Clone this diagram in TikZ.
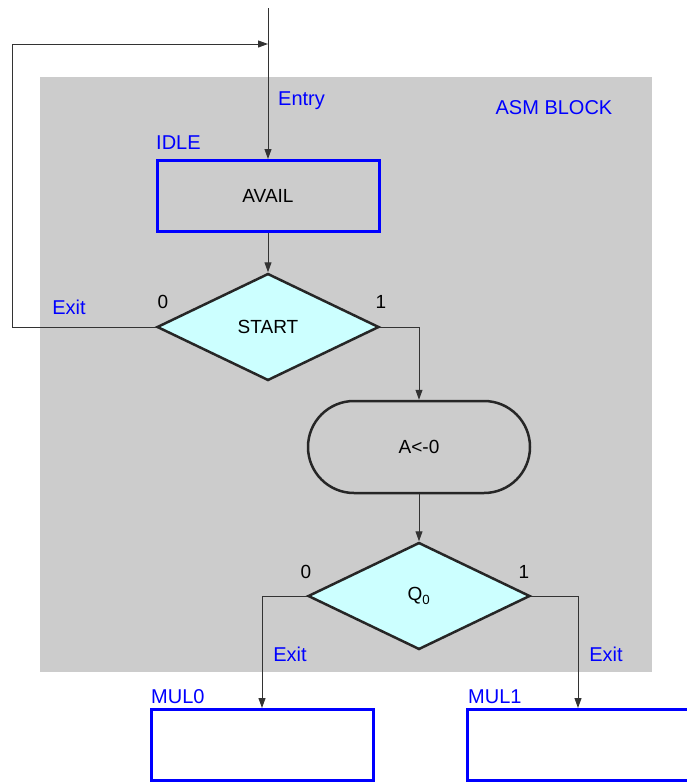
\documentclass[tikz,border=0pt]{standalone}
\usepackage{fontspec}
\setmainfont{Liberation Sans}
\usepackage{tikz}
\usetikzlibrary{shapes.geometric, arrows.meta, positioning}
\definecolor{asmgray}{RGB}{204,204,204}
\definecolor{condcyan}{RGB}{204,255,255}
\definecolor{asmblue}{RGB}{0,0,255}
\tikzstyle{arrow} = [-{Triangle[length=10pt, width=7pt]}, line width=1pt, draw=black!80]
\tikzstyle{statebox} = [draw=asmblue, line width=3pt, minimum width=222pt, minimum height=71pt, inner sep=0pt]
\tikzstyle{decision} = [diamond, draw=black!85, line width=2.5pt, fill=condcyan, minimum width=222pt, minimum height=107pt, inner sep=0pt]
\tikzstyle{condbox} = [draw=black!85, line width=2.5pt, rounded corners=46pt, minimum width=222pt, minimum height=92pt]
\tikzstyle{tag} = [text=asmblue, font=\fontsize{20}{24}\selectfont, inner sep=0pt]
\tikzstyle{bit} = [font=\fontsize{19}{22}\selectfont, inner sep=0pt]

\begin{document}
\begin{tikzpicture}[x=1pt, y=-1pt, font=\fontsize{19}{22}\selectfont]
    \useasboundingbox (0,0) rectangle (687,782);
    \fill[asmgray] (40,77) rectangle (652,672);
    \node[statebox] (avail) at (268,196) {AVAIL};
    \node[decision] (start) at (268,327) {START};
    \node[condbox] (clear) at (419,447) {A<-0};
    \node[decision] (qzero) at (419,596) {Q\textsubscript{0}};
    \node[statebox] (mulzero) at (262,745) {};
    \node[statebox] (mulone) at (578,745) {};
    % labels
    \node[tag] (asmblock) at (554,108) {ASM BLOCK};
    \node[tag, anchor=west] (entrytag) at (278,101) {Entry};
    \node[tag, anchor=west] (idletag) at (156,143) {IDLE};
    \node[tag] (exitidle) at (69,307) {Exit};
    \node[bit] (startzero) at (163,302) {0};
    \node[bit] (startone) at (381,302) {1};
    \node[bit] (qzerozero) at (306,572) {0};
    \node[bit] (qzeroone) at (524,572) {1};
    \node[tag] (exitzero) at (290,654) {Exit};
    \node[tag] (exitone) at (606,654) {Exit};
    \node[tag, anchor=west] (mulzerotag) at (151,697) {MUL0};
    \node[tag, anchor=west] (mulonetag) at (468,697) {MUL1};
    % connectors
    \coordinate (entry) at (268,8);
    \coordinate (loop) at (12,44);
    \draw[arrow] (entry) -- (avail);
    \draw[arrow] (start.west) -| (loop) -- (loop -| avail.north);
    \draw[arrow] (avail) -- (start);
    \draw[arrow] (start.east) -| (clear.north);
    \draw[arrow] (clear) -- (qzero);
    \draw[arrow] (qzero.west) -| (mulzero.north);
    \draw[arrow] (qzero.east) -| (mulone.north);
\end{tikzpicture}
\end{document}
